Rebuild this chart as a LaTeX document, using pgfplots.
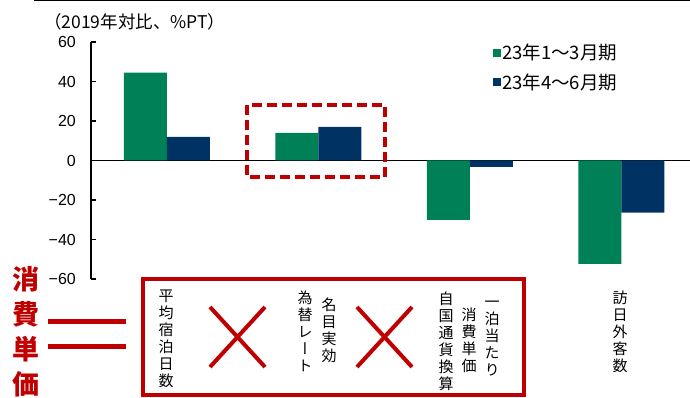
\documentclass[border=0pt]{standalone}
\usepackage{pgfplots}
\pgfplotsset{compat=1.18}
\usepackage{fontspec}
\setmainfont{Liberation Sans}
\newfontfamily\jp{Noto Sans CJK JP}
\newfontfamily\jpv[RawFeature=+vert]{Noto Sans CJK JP}
\newfontfamily\tickfont{Liberation Sans}
\definecolor{cgreen}{RGB}{0,128,86}
\definecolor{cnavy}{RGB}{0,50,100}
\definecolor{cred}{RGB}{192,0,0}
\begin{document}
\begin{tikzpicture}[x=1bp,y=1bp]
\path[use as bounding box, clip] (0,0) rectangle (690,397);
\draw[line width=1.5bp] (34,396.4) -- (690,396.4);
\begin{axis}[
  at={(91bp,118bp)}, anchor=south west,
  x=151.5bp, y=1.975bp,
  xmin=-0.5, xmax=3.454, ymin=-60, ymax=60,
  axis y line=left, axis x line=middle,
  axis line style={-, line width=1.2bp, black},
  xtick=\empty,
  ytick={-60,-40,-20,0,20,40,60},
  yticklabels={−60,−40,−20,0,20,40,60},
  tick align=inside, major tick length=5bp,
  every tick/.style={line width=1.2bp, black},
  yticklabel style={font=\tickfont\fontsize{16bp}{18bp}\selectfont, inner sep=0pt, xshift=-15bp},
  ybar=0pt, bar width=43bp,
  clip=false,
  legend style={at={(0.671,0.995)}, anchor=north west, draw=none, fill=none,
    font=\jp\fontsize{18.5bp}{21bp}\selectfont, row sep=10bp, inner sep=0pt,
    nodes={inner sep=1bp}},
  legend cell align=left,
]
\addplot[fill=cgreen, draw=none, legend image code/.code={\fill[cgreen] (0bp,-4bp) rectangle (8bp,4bp);}]
  coordinates {(0,44.5) (1,14) (2,-30) (3,-52.3)};
\addlegendentry{23年1〜3月期}
\addplot[fill=cnavy, draw=none, legend image code/.code={\fill[cnavy] (0bp,-4bp) rectangle (8bp,4bp);}]
  coordinates {(0,12) (1,17) (2,-3.2) (3,-26.4)};
\addlegendentry{23年4〜6月期}
\end{axis}
% y label
\node[anchor=west, inner sep=0pt, font=\jp\fontsize{17.5bp}{20bp}\selectfont] at (44,375) {（2019年対比、\%PT）};
% dashed box
\draw[cred, line width=3.5bp, dash pattern=on 10bp off 5bp] (247,292) rectangle (385,220);
% solid box
\draw[cred, line width=3.5bp] (143,118) rectangle (524,2);
% X marks
\draw[cred, line width=4bp] (210,90) -- (265,30) (210,30) -- (265,90);
\draw[cred, line width=4bp] (357,90) -- (412,30) (357,30) -- (412,90);
% vertical texts
\tikzset{vt/.style={align=center, inner sep=0pt, font=\jpv\fontsize{15bp}{17bp}\selectfont}}
\node[vt] at (166,58) {平\\均\\宿\\泊\\日\\数};
\node[vt] at (305,65.5) {為\\替\\レ\\ー\\ト};
\node[vt] at (329,67) {名\\目\\実\\効};
\node[vt] at (446,56) {自\\国\\通\\貨\\換\\算};
\node[vt] at (469,57) {消\\費\\単\\価};
\node[vt] at (492,58) {一\\泊\\当\\た\\り};
\node[vt] at (620,65.5) {訪\\日\\外\\客\\数};
% left big text
\node[align=center, inner sep=0pt, text=cred, font=\jp\bfseries\fontsize{27bp}{35bp}\selectfont] at (25.5,65.5) {消\\費\\単\\価};
\draw[cred, line width=5bp] (48,75.3) -- (126,75.3) (48,50.3) -- (126,50.3);
\end{tikzpicture}
\end{document}
